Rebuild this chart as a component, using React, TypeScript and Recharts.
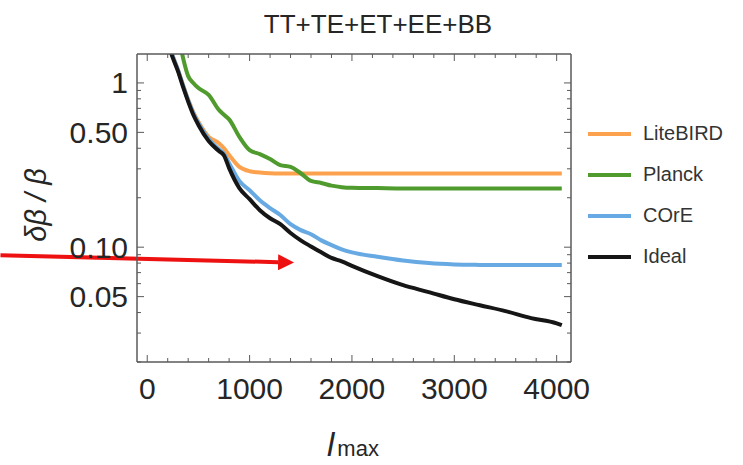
import { LineChart, Line, XAxis, YAxis, ReferenceLine, Legend } from "recharts";

// multipole cutoff l_max (shared grid for all four experiments)
const ELL = [
  200, 250, 300, 350, 400, 450, 500, 600, 700, 750, 800, 900, 1000, 1100, 1200,
  1300, 1400, 1500, 1600, 1700, 1800, 1900, 2000, 2250, 2500, 2750, 3000, 3250,
  3500, 3750, 4000, 4050,
];

// δβ/β; values above 1.5 are clipped by the frame
const LITEBIRD = [
  1.78, 1.45, 1.2, 0.97, 0.79, 0.665, 0.58, 0.47, 0.43, 0.4, 0.364, 0.308, 0.29,
  0.285, 0.282, 0.281, 0.281, 0.281, 0.281, 0.281, 0.281, 0.281, 0.281, 0.281,
  0.281, 0.281, 0.281, 0.281, 0.281, 0.281, 0.281, 0.281,
];
const PLANCK = [
  null, null, 2.0, 1.42, 1.1, 1.0, 0.93, 0.845, 0.685, 0.64, 0.6, 0.47, 0.39,
  0.369, 0.344, 0.316, 0.308, 0.282, 0.253, 0.246, 0.237, 0.232, 0.23, 0.229,
  0.228, 0.228, 0.228, 0.228, 0.228, 0.228, 0.228, 0.228,
];
const CORE = [
  1.78, 1.45, 1.2, 0.965, 0.785, 0.655, 0.57, 0.455, 0.395, 0.37, 0.325, 0.253,
  0.222, 0.193, 0.173, 0.157, 0.138, 0.127, 0.12, 0.11, 0.103, 0.097, 0.093,
  0.0875, 0.083, 0.08, 0.0785, 0.078, 0.0778, 0.0778, 0.0778, 0.0778,
];
const IDEAL = [
  1.75, 1.42, 1.18, 0.945, 0.77, 0.64, 0.555, 0.443, 0.385, 0.362, 0.303, 0.229,
  0.196, 0.168, 0.15, 0.138, 0.122, 0.11, 0.101, 0.093, 0.086, 0.082, 0.077,
  0.0666, 0.0587, 0.0533, 0.0482, 0.0443, 0.0408, 0.037, 0.0344, 0.0335,
];

const X_TICKS = [
  0, 200, 400, 600, 800, 1000, 1200, 1400, 1600, 1800, 2000, 2200, 2400, 2600,
  2800, 3000, 3200, 3400, 3600, 3800, 4000,
];
const X_MAJOR = [0, 1000, 2000, 3000, 4000];

const Y_TICKS = [
  0.02, 0.03, 0.04, 0.05, 0.06, 0.07, 0.08, 0.09, 0.1, 0.2, 0.3, 0.4, 0.5, 0.6,
  0.7, 0.8, 0.9, 1,
];
const Y_MAJOR = [0.05, 0.1, 0.5, 1];
const Y_MAJOR_LABELS = ["0.05", "0.10", "0.50", "1"];

const SERIES = [
  { key: "LiteBIRD", color: "#fca24e" },
  { key: "Planck", color: "#4f9b2e" },
  { key: "COrE", color: "#67a9e2" },
  { key: "Ideal", color: "#161616" },
];

const FONT = "'Liberation Sans', Arial, sans-serif";
const FRAME = "#5a5a5a";
const TEXT = "#262626";

const W = 743;
const H = 465;

function XTick(props: any) {
  const { x, y, payload, top } = props;
  const major = X_MAJOR.includes(payload.value);
  const len = major ? 7 : 4;
  const dir = top ? 1 : -1;
  return (
    <g>
      <line x1={x} x2={x} y1={y} y2={y + dir * len} stroke={FRAME} strokeWidth={1} />
      {major && !top && (
        <text x={x} y={y + 37} textAnchor="middle" fontSize={30} fontFamily={FONT} fill={TEXT}>
          {payload.value}
        </text>
      )}
    </g>
  );
}

function YTick(props: any) {
  const { x, y, payload, right } = props;
  const idx = Y_MAJOR.indexOf(payload.value);
  const len = idx >= 0 ? 7 : 4;
  const dir = right ? -1 : 1;
  return (
    <g>
      <line x1={x} x2={x + dir * len} y1={y} y2={y} stroke={FRAME} strokeWidth={1} />
      {idx >= 0 && !right && (
        <text x={x - 9} y={y + 10.5} textAnchor="end" fontSize={30} fontFamily={FONT} fill={TEXT}>
          {Y_MAJOR_LABELS[idx]}
        </text>
      )}
    </g>
  );
}

function LegendBox() {
  return (
    <div style={{ fontFamily: FONT }}>
      {SERIES.map((s) => (
        <div key={s.key} style={{ display: "flex", alignItems: "center", height: 41 }}>
          <div style={{ width: 43, height: 4, background: s.color, marginRight: 12 }} />
          <span style={{ fontSize: 20, color: "#333" }}>{s.key}</span>
        </div>
      ))}
    </div>
  );
}

export default function App() {
  const data = ELL.map((l, i) => ({
    l,
    LiteBIRD: LITEBIRD[i],
    Planck: PLANCK[i],
    COrE: CORE[i],
    Ideal: IDEAL[i],
  }));

  const axisLine = { stroke: FRAME, strokeWidth: 1.5 };

  return (
    <div style={{ position: "absolute", left: 0, top: 0, width: W, height: H, background: "#fff" }}>
      <LineChart
        width={W}
        height={H}
        data={data}
        margin={{ top: 53, right: 171, bottom: 73, left: 0 }}
      >
        <defs>
          <marker
            id="arrowHead"
            markerUnits="userSpaceOnUse"
            markerWidth={17}
            markerHeight={16}
            refX={0}
            refY={8}
            orient="auto"
          >
            <path d="M0,0 L16,8 L0,16 z" fill="#ee1111" />
          </marker>
        </defs>
        <XAxis
          xAxisId="b"
          dataKey="l"
          type="number"
          domain={[-100, 4140]}
          allowDataOverflow
          ticks={X_TICKS}
          interval={0}
          tickSize={0}
          tickMargin={0}
          tickLine={false}
          axisLine={axisLine}
          tick={(p: any) => <XTick {...p} />}
          height={30}
        />
        <XAxis
          xAxisId="t"
          orientation="top"
          dataKey="l"
          type="number"
          domain={[-100, 4140]}
          allowDataOverflow
          ticks={X_TICKS}
          interval={0}
          tickSize={0}
          tickMargin={0}
          tickLine={false}
          axisLine={axisLine}
          tick={(p: any) => <XTick {...p} top />}
          height={1}
        />
        <YAxis
          yAxisId="l"
          scale="log"
          type="number"
          domain={[0.02, 1.5]}
          allowDataOverflow
          ticks={Y_TICKS}
          interval={0}
          tickSize={0}
          tickMargin={0}
          tickLine={false}
          axisLine={axisLine}
          tick={(p: any) => <YTick {...p} />}
          width={137}
        />
        <YAxis
          yAxisId="r"
          orientation="right"
          scale="log"
          type="number"
          domain={[0.02, 1.5]}
          allowDataOverflow
          ticks={Y_TICKS}
          interval={0}
          tickSize={0}
          tickMargin={0}
          tickLine={false}
          axisLine={axisLine}
          tick={(p: any) => <YTick {...p} right />}
          width={1}
        />
        {SERIES.map((s) => (
          <Line
            key={s.key}
            xAxisId="b"
            yAxisId="l"
            type="monotone"
            dataKey={s.key}
            stroke={s.color}
            strokeWidth={4}
            dot={false}
            activeDot={false}
            isAnimationActive={false}
          />
        ))}
        <ReferenceLine
          xAxisId="b"
          yAxisId="l"
          segment={[
            { x: -1434, y: 0.0894 },
            { x: 1278, y: 0.081 },
          ]}
          ifOverflow="visible"
          stroke="#ee1111"
          strokeWidth={4}
          shape={(p: any) => (
            <line
              x1={p.x1}
              y1={p.y1}
              x2={p.x2}
              y2={p.y2}
              stroke="#ee1111"
              strokeWidth={4}
              markerEnd="url(#arrowHead)"
            />
          )}
        />
        <Legend
          layout="vertical"
          align="center"
          verticalAlign="middle"
          content={() => <LegendBox />}
          wrapperStyle={{ left: 588, top: 113, width: 150, height: 170 }}
        />
        <text x={378} y={33} textAnchor="middle" fontSize={26} fontFamily={FONT} fill={TEXT}>
          TT+TE+ET+EE+BB
        </text>
        <text
          x={46}
          y={205}
          transform="rotate(-90, 46, 205)"
          textAnchor="middle"
          fontSize={29}
          fontStyle="italic"
          fontFamily={FONT}
          fill={TEXT}
        >
          δβ / β
        </text>
        <text x={327} y={456} fontFamily={FONT} fill={TEXT}>
          <tspan fontSize={33} fontStyle="italic">l</tspan>
          <tspan fontSize={22} dx={3}>max</tspan>
        </text>
      </LineChart>
    </div>
  );
}
